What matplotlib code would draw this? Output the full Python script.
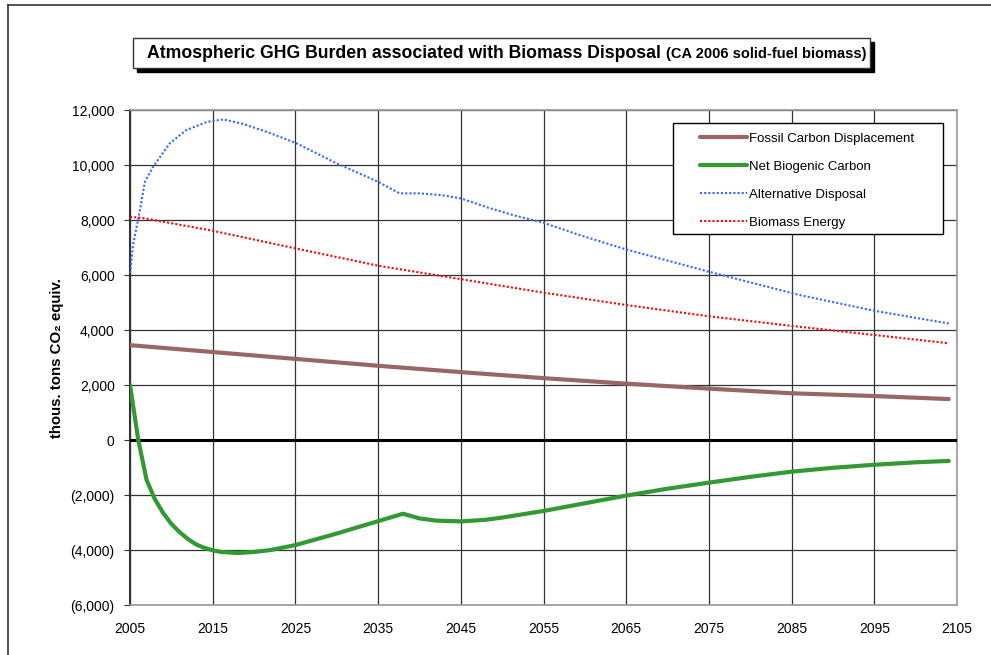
import matplotlib
matplotlib.use("Agg")
import matplotlib.pyplot as plt
from matplotlib.patches import Rectangle
from matplotlib.lines import Line2D
from matplotlib.ticker import FuncFormatter

plt.rcParams['font.family'] = ['Liberation Sans', 'DejaVu Sans']

# values (thous. tons CO2 equiv.)
fossil_years = [2005, 2015, 2025, 2035, 2045, 2055, 2065, 2075, 2085, 2095, 2104]
fossil = [3450, 3200, 2950, 2700, 2470, 2250, 2050, 1870, 1700, 1600, 1490]

bio_years = [2005, 2006, 2007, 2008, 2009, 2010, 2011, 2012, 2013, 2014, 2015,
             2016, 2018, 2020, 2022, 2025, 2030, 2035, 2038, 2040, 2042, 2045,
             2048, 2050, 2055, 2060, 2065, 2070, 2075, 2080, 2085, 2090, 2095,
             2100, 2104]
biogenic = [2000, 0, -1450, -2150, -2650, -3050, -3350, -3600, -3800, -3920, -4010,
            -4070, -4110, -4070, -4000, -3820, -3400, -2950, -2680, -2850, -2930, -2960,
            -2900, -2820, -2580, -2300, -2020, -1770, -1550, -1340, -1150, -1010, -900,
            -810, -760]

alt_years = [2005, 2005.4, 2006.2, 2006.8, 2007.8, 2009.8, 2011.8, 2014.3, 2016.3,
             2018.7, 2021.5, 2025, 2030, 2035, 2037.6, 2040, 2042.5, 2045, 2048,
             2051.3, 2055, 2059.4, 2065, 2075, 2086, 2095, 2104]
alternative = [6070, 7150, 8360, 9390, 9940, 10790, 11270, 11570, 11660,
               11490, 11210, 10810, 10060, 9390, 8970, 8970, 8910, 8790, 8480,
               8180, 7900, 7450, 6930, 6120, 5270, 4700, 4240]

energy_years = [2005, 2006.6, 2015, 2025, 2035, 2045, 2055, 2065, 2075, 2085, 2095, 2104]
energy = [8120, 8070, 7610, 6970, 6340, 5850, 5360, 4910, 4500, 4150, 3820, 3520]

fig = plt.figure(figsize=(9.91, 6.55), dpi=100)
ax = fig.add_axes([0.1312, 0.0763, 0.8345, 0.7557])

ax.plot(fossil_years, fossil, color='#996666', lw=3, label='Fossil Carbon Displacement',
        solid_capstyle='round', zorder=4)
ax.plot(bio_years, biogenic, color='#339933', lw=3, label='Net Biogenic Carbon',
        solid_capstyle='round', zorder=4)
ax.plot(alt_years, alternative, color='#3366FF', lw=1.5, ls=(0, (1, 1)),
        label='Alternative Disposal', zorder=4)
ax.plot(energy_years, energy, color='#FF0000', lw=1.5, ls=(0, (1, 1)),
        label='Biomass Energy', zorder=4)

ax.axhline(0, color='black', lw=2.2, zorder=3)

ax.set_xlim(2005, 2105)
ax.set_ylim(-6000, 12000)
ax.set_xticks(range(2005, 2106, 10))
ax.set_yticks(range(-6000, 12001, 2000))
ax.yaxis.set_major_formatter(FuncFormatter(
    lambda v, p: f'({abs(int(v)):,})' if v < 0 else f'{int(v):,}'))
ax.grid(True, color='#333333', lw=0.9, zorder=1)
ax.tick_params(axis='x', length=0, pad=12.5, labelsize=10)
ax.tick_params(axis='y', length=4, direction='out', pad=7, labelsize=10, color='#333333')

for side in ['top', 'right', 'bottom']:
    ax.spines[side].set_color('#999999')
    ax.spines[side].set_linewidth(1.2)
ax.spines['left'].set_color('#333333')
ax.spines['left'].set_linewidth(1.5)

ax.set_ylabel('thous. tons CO₂ equiv.', fontsize=10.8, fontweight='bold', labelpad=5)

# legend: entries without frame, box drawn separately
leg = ax.legend(loc='upper left', bbox_to_anchor=(0.6892, 0.954), fontsize=9.5,
                frameon=False, handlelength=3.6, labelspacing=1.19,
                borderpad=0, handletextpad=0.1, borderaxespad=0)
leg.set_zorder(6)
ax.add_patch(Rectangle((0.6566, 0.7495), 0.3265, 0.2242, transform=ax.transAxes,
                       facecolor='white', edgecolor='black', lw=1.0, zorder=5))

# title box with shadow
bx0, bx1, by0, by1 = 133 / 991, 870 / 991, 1 - 68 / 655, 1 - 38 / 655
fig.patches.append(Rectangle((bx0 + 4 / 991, by0 - 4 / 655), bx1 - bx0, by1 - by0,
                             transform=fig.transFigure, facecolor='black',
                             edgecolor='black', zorder=1))
fig.patches.append(Rectangle((bx0, by0), bx1 - bx0, by1 - by0,
                             transform=fig.transFigure, facecolor='white',
                             edgecolor='#333333', lw=1, zorder=2))

t1 = fig.text(147 / 991, (by0 + by1) / 2, 'Atmospheric GHG Burden associated with Biomass Disposal',
              fontsize=12.7, fontweight='bold', ha='left', va='center')
fig.canvas.draw()
ext = t1.get_window_extent()
fig.text(ext.x1 / fig.bbox.width + 5 / 991, (by0 + by1) / 2 - 0.001,
         '(CA 2006 solid-fuel biomass)', fontsize=10.5, fontweight='bold',
         ha='left', va='center')

# outer border of the chart area
fig.add_artist(Line2D([8 / 991, 8 / 991], [0, 1 - 5 / 655], transform=fig.transFigure,
                      color='#333333', lw=1.2))
fig.add_artist(Line2D([8 / 991, 1], [1 - 5 / 655, 1 - 5 / 655], transform=fig.transFigure,
                      color='#333333', lw=1.2))

fig.savefig('out.png', dpi=100)
